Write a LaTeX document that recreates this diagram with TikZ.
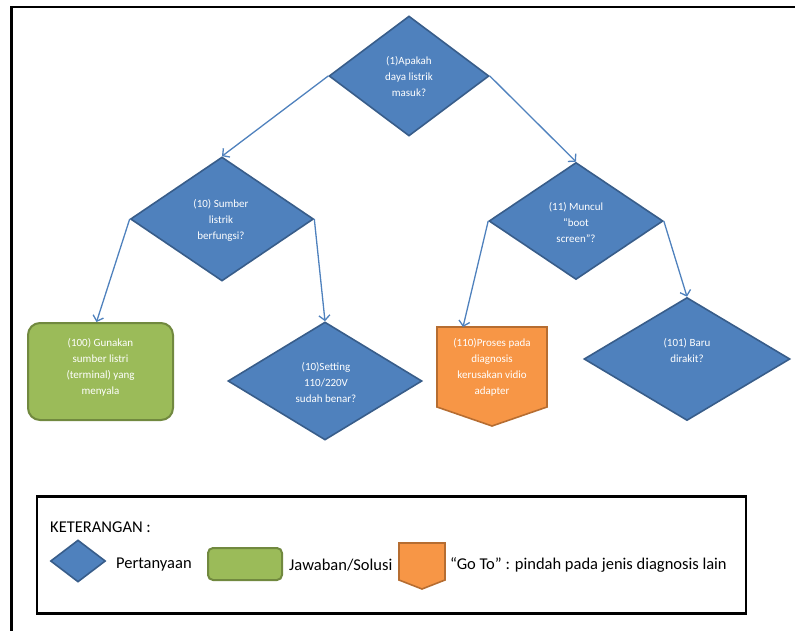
\documentclass[tikz,border=0pt]{standalone}
\usepackage{fontspec}
\setmainfont{Carlito}
\usetikzlibrary{shapes.geometric,arrows.meta,calc}
\definecolor{qblue}{HTML}{4F81BD}
\definecolor{qblueline}{HTML}{385D8A}
\definecolor{ansgreen}{HTML}{9BBB59}
\definecolor{ansgreenline}{HTML}{71893F}
\definecolor{gotoorange}{HTML}{F79646}
\definecolor{gotoline}{HTML}{B66D31}
\begin{document}
\begin{tikzpicture}[x=1pt,y=-1pt,
  question/.style={diamond, fill=qblue, draw=qblueline, line width=1.6pt, inner sep=0pt},
  qtext/.style={text=white, font=\fontsize{11}{16}\selectfont, align=center, inner sep=0pt},
  answer/.style={rectangle, fill=ansgreen, draw=ansgreenline, line width=2pt, inner sep=0pt},
  gotobox/.style={rectangle, inner sep=0pt, outer sep=0pt},
  gotoshape/.style={fill=gotoorange, draw=gotoline, line width=1.6pt},
  flow/.style={draw=qblue, line width=1.3pt, -{Straight Barb[length=5pt,width=11pt]}},
  legendtext/.style={font=\fontsize{16.5}{20}\selectfont, anchor=west, inner sep=0pt},
  frameline/.style={line width=2.8pt}]

\useasboundingbox (0,0) rectangle (795,630);

% page frame (left and top edges)
\coordinate (fbl) at (11.5,632);
\coordinate (ftl) at (11.5,7);
\coordinate (ftr) at (797,7);
\draw[frameline] (fbl) -- (ftl) -- (ftr);

% question diamonds
\node[question, minimum width=160pt, minimum height=120pt] (d1)   at (409,76)  {};
\node[question, minimum width=183pt, minimum height=124pt] (d10)  at (222,219) {};
\node[question, minimum width=174pt, minimum height=117pt] (d11)  at (576,221) {};
\node[question, minimum width=194pt, minimum height=118pt] (d10s) at (325,381) {};
\node[question, minimum width=206pt, minimum height=123pt] (d101) at (687,359) {};

\node[qtext] (t1)   at (409,77)  {(1)Apakah\\daya listrik\\masuk?};
\node[qtext] (t10)  at (221,220) {(10) Sumber\\listrik\\berfungsi?};
\node[qtext] (t11)  at (576,223) {(11) Muncul\\“boot\\screen”?};
\node[qtext] (t10s) at (326,383) {(10)Setting\\110/220V\\sudah benar?};
\node[qtext] (t101) at (687,351) {(101) Baru\\dirakit?};

% answer box
\node[answer, rounded corners=12pt, minimum width=145pt, minimum height=97pt] (g100) at (100.5,371.5) {};
\node[qtext] (t100) at (100.5,367) {(100) Gunakan\\sumber listri\\(terminal) yang\\menyala};

% go-to shape
\node[gotobox, minimum width=110pt, minimum height=99pt] (g110) at (492,376.5) {};
\draw[gotoshape] (g110.north west) -- (g110.north east) -- ([yshift=19pt]g110.south east)
  -- (g110.south) -- ([yshift=19pt]g110.south west) -- cycle;
\node[qtext] (t110) at (492,367) {(110)Proses pada\\diagnosis\\kerusakan vidio\\adapter};

% connectors
\draw[flow] (d1.west) -- (d10.north);
\draw[flow] (d1.east) -- (d11.north);
\draw[flow] (d10.west) -- ([xshift=-4pt]g100.north);
\draw[flow] (d10.east) -- (d10s.north);
\draw[flow] (d11.west) -- ([xshift=-29pt]g110.north);
\draw[flow] (d11.east) -- (d101.north);

% legend
\node[draw, line width=2.8pt, minimum width=709pt, minimum height=117pt, inner sep=0pt] (legend) at (391.5,555) {};
\node[legendtext] (legtitle) at (50,527) {KETERANGAN :};
\node[question, minimum width=55pt, minimum height=42pt] (legq) at (78,561) {};
\node[legendtext] (legqt) at (116,565) {Pertanyaan};
\node[answer, rounded corners=5pt, minimum width=74pt, minimum height=32pt] (lega) at (245,564) {};
\node[legendtext] (legat) at (289,565) {Jawaban/Solusi};
\node[gotobox, minimum width=46pt, minimum height=46pt] (legg) at (422,566) {};
\draw[gotoshape] (legg.north west) -- (legg.north east) -- ([yshift=9pt]legg.south east)
  -- (legg.south) -- ([yshift=9pt]legg.south west) -- cycle;
\node[legendtext] (leggt) at (450,565) {“Go To” : pindah pada jenis diagnosis lain};
\end{tikzpicture}
\end{document}
